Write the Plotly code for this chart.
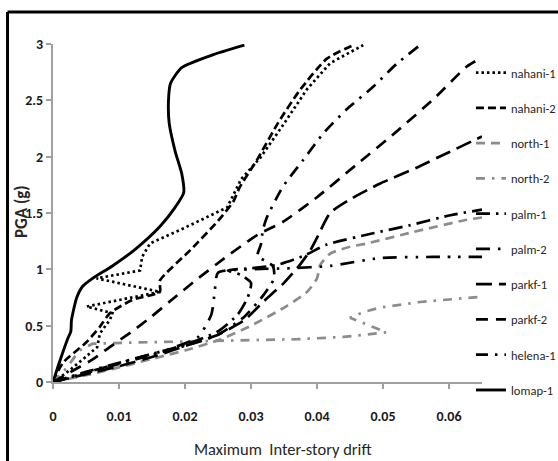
import plotly.graph_objects as go

# PGA (g) versus maximum inter-story drift for ten ground motions
records = ["nahani-1", "nahani-2", "north-1", "north-2", "palm-1",
           "palm-2", "parkf-1", "parkf-2", "helena-1", "lomap-1"]

nahani1_drift = [0, 0.002, 0.0045, 0.0067, 0.0071, 0.0086, 0.009, 0.0051, 0.0162, 0.0066,
                 0.0132, 0.0135, 0.0147, 0.02, 0.0264, 0.0285, 0.0314, 0.0345, 0.0385, 0.042, 0.047]
nahani1_pga = [0, 0.08, 0.2, 0.31, 0.43, 0.55, 0.61, 0.67, 0.8, 0.92,
               0.99, 1.11, 1.23, 1.37, 1.55, 1.8, 1.99, 2.25, 2.6, 2.83, 2.99]

nahani2_drift = [0, 0.0015, 0.005, 0.0071, 0.0086, 0.0121, 0.0162, 0.0162, 0.0208, 0.025,
                 0.0273, 0.0283, 0.031, 0.0341, 0.0374, 0.0415, 0.0455]
nahani2_pga = [0, 0.17, 0.35, 0.49, 0.61, 0.73, 0.8, 0.9, 1.17, 1.43,
               1.6, 1.73, 1.98, 2.3, 2.59, 2.87, 2.99]

north1_drift = [0, 0.005, 0.01, 0.016, 0.02, 0.025, 0.03, 0.035, 0.0385, 0.04,
                0.0405, 0.042, 0.045, 0.0476, 0.0545, 0.0627, 0.065]
north1_pga = [0, 0.06, 0.13, 0.22, 0.28, 0.37, 0.5, 0.66, 0.8, 0.92,
              1.04, 1.14, 1.2, 1.23, 1.33, 1.44, 1.46]

north2_drift = [0, 0.002, 0.004, 0.006, 0.012, 0.02, 0.03, 0.037, 0.044, 0.0505,
                0.048, 0.045, 0.047, 0.0495, 0.0556, 0.0602, 0.0645]
north2_pga = [0, 0.12, 0.28, 0.34, 0.35, 0.36, 0.37, 0.38, 0.4, 0.44,
              0.5, 0.57, 0.62, 0.66, 0.71, 0.73, 0.755]

palm1_drift = [0, 0.005, 0.01, 0.015, 0.02, 0.025, 0.028, 0.0295, 0.03, 0.0285,
               0.0265, 0.03, 0.034, 0.038, 0.0415, 0.0485, 0.054, 0.0602, 0.065]
palm1_pga = [0, 0.09, 0.17, 0.25, 0.33, 0.45, 0.6, 0.75, 0.88, 0.95,
             0.99, 1.01, 1.04, 1.12, 1.22, 1.32, 1.39, 1.48, 1.53]

palm2_drift = [0, 0.006, 0.012, 0.018, 0.022, 0.024, 0.0245, 0.025, 0.03, 0.036,
               0.042, 0.0495, 0.0576, 0.065]
palm2_pga = [0, 0.1, 0.2, 0.3, 0.4, 0.6, 0.8, 0.97, 1.0, 1.01,
             1.03, 1.1, 1.11, 1.11]

parkf1_drift = [0, 0.005, 0.01, 0.016, 0.02, 0.025, 0.029, 0.032, 0.035, 0.0374,
                0.039, 0.04, 0.042, 0.045, 0.0495, 0.055, 0.06, 0.065]
parkf1_pga = [0, 0.07, 0.14, 0.24, 0.32, 0.42, 0.55, 0.72, 0.88, 1.04,
              1.17, 1.28, 1.5, 1.62, 1.76, 1.9, 2.04, 2.18]

parkf2_drift = [0, 0.003, 0.006, 0.0086, 0.012, 0.0147, 0.018, 0.022, 0.026, 0.0298,
                0.0314, 0.0348, 0.04, 0.046, 0.052, 0.058, 0.0627, 0.065]
parkf2_pga = [0, 0.1, 0.2, 0.31, 0.45, 0.57, 0.73, 0.92, 1.1, 1.26,
              1.32, 1.42, 1.64, 1.93, 2.22, 2.53, 2.8, 2.88]

helena1_drift = [0, 0.005, 0.01, 0.015, 0.02, 0.025, 0.029, 0.032, 0.0335, 0.0333,
                 0.031, 0.0315, 0.0318, 0.0324, 0.0348, 0.0379, 0.041, 0.0445, 0.0485, 0.052, 0.0556]
helena1_pga = [0, 0.08, 0.16, 0.24, 0.32, 0.42, 0.58, 0.78, 0.92, 1.03,
               1.12, 1.22, 1.35, 1.46, 1.73, 1.97, 2.21, 2.42, 2.62, 2.82, 2.99]

lomap1_drift = [0, 0.001, 0.0022, 0.0027, 0.0028, 0.0036, 0.0045, 0.006, 0.009, 0.0125,
                0.0162, 0.0185, 0.0198, 0.0195, 0.0185, 0.0176, 0.0175, 0.0178, 0.0195, 0.024, 0.029]
lomap1_pga = [0, 0.18, 0.38, 0.45, 0.55, 0.75, 0.85, 0.92, 1.03, 1.18,
              1.38, 1.55, 1.68, 1.85, 2.05, 2.3, 2.5, 2.65, 2.79, 2.9, 2.99]

drifts = [nahani1_drift, nahani2_drift, north1_drift, north2_drift, palm1_drift,
          palm2_drift, parkf1_drift, parkf2_drift, helena1_drift, lomap1_drift]
pgas = [nahani1_pga, nahani2_pga, north1_pga, north2_pga, palm1_pga,
        palm2_pga, parkf1_pga, parkf2_pga, helena1_pga, lomap1_pga]

BLACK = "#000000"
GREY = "#8c8c8c"
styles = [
    (BLACK, 2.7, "2.5px,3px", "linear"),
    (BLACK, 2.7, "8px,4px", "spline"),
    (GREY, 2.7, "9px,6px", "spline"),
    (GREY, 2.7, "9px,7px,2.5px,7px", "linear"),
    (BLACK, 2.7, "14px,6px,2.5px,6px", "spline"),
    (BLACK, 2.7, "14px,8px,2.5px,8px,2.5px,8px", "spline"),
    (BLACK, 2.7, "16px,7px", "spline"),
    (BLACK, 2.7, "12px,8px", "spline"),
    (BLACK, 2.7, "12px,7px,2.5px,7px", "spline"),
    (BLACK, 2.9, "solid", "spline"),
]

FONT = "Carlito, Lato, sans-serif"

fig = go.Figure()
for name, x, y, (col, w, dash, shape) in zip(records, drifts, pgas, styles):
    fig.add_trace(go.Scatter(
        x=x, y=y, mode="lines", name=name, legendgroup=name,
        line=dict(color=col, width=w, dash=dash, shape=shape, smoothing=0.6),
    ))

axis_common = dict(
    showline=True, linecolor="#a0a0a0", linewidth=2,
    ticks="outside", tickcolor="#a0a0a0", ticklen=5, tickwidth=1.5,
    showgrid=False, zeroline=False,
    tickfont=dict(family=FONT, size=14, color="#1a1a1a", weight="bold"),
)

fig.update_layout(
    width=558, height=461,
    margin=dict(l=53, r=76, t=44, b=79, autoexpand=False),
    paper_bgcolor="white", plot_bgcolor="white",
    xaxis=dict(range=[0, 0.065], tickvals=[0, 0.01, 0.02, 0.03, 0.04, 0.05, 0.06],
               ticktext=["0", "0.01", "0.02", "0.03", "0.04", "0.05", "0.06"],
               ticklabelstandoff=15, **axis_common),
    yaxis=dict(range=[0, 3], tickvals=[0, 0.5, 1, 1.5, 2, 2.5, 3],
               ticktext=["0", "0.5", "1", "1.5", "2", "2.5", "3"], **axis_common),
    legend=dict(xref="container", yref="container", x=0.844, xanchor="left",
                y=0.874, yanchor="top", maxheight=440,
                font=dict(family=FONT, size=12.5, color="#262626"),
                tracegroupgap=16, bgcolor="rgba(0,0,0,0)"),
    showlegend=True,
    annotations=[
        dict(text="Maximum  Inter-story drift", xref="paper", yref="paper",
             x=0.536, y=-0.198, showarrow=False, xanchor="center", yanchor="middle",
             font=dict(family=FONT, size=16.5, color="#262626")),
        dict(text="PGA (g)", xref="paper", yref="paper", textangle=-90,
             x=-0.072, y=0.503, showarrow=False, xanchor="center", yanchor="middle",
             font=dict(family=FONT, size=17, color="#262626", weight="bold")),
    ],
    shapes=[
        dict(type="line", xref="paper", yref="paper", x0=-0.106, x1=-0.106, y0=-0.26, y1=1.0947,
             line=dict(color="black", width=3)),
        dict(type="line", xref="paper", yref="paper", x0=-0.106, x1=1.2, y0=1.0947, y1=1.0947,
             line=dict(color="black", width=3)),
    ],
)

fig.write_html("out.html")
